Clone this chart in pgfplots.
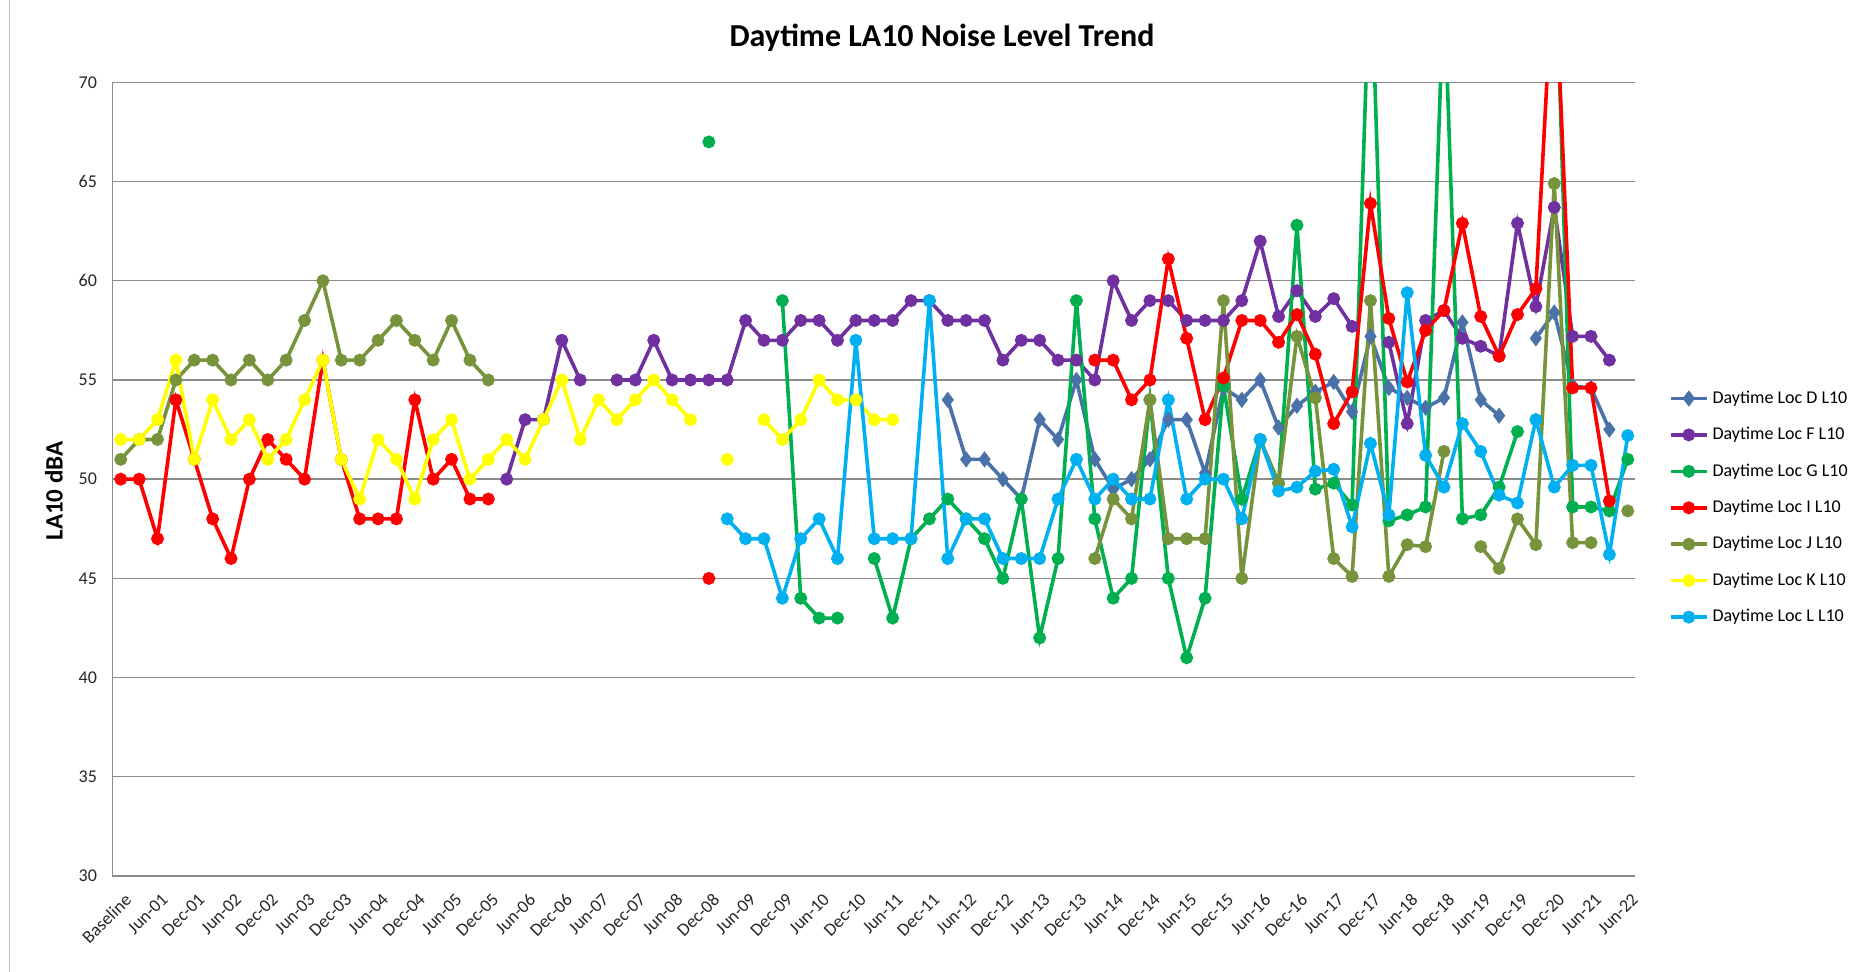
\documentclass[border=0pt]{standalone}
\usepackage{fontspec}
\setmainfont{Carlito}
\usepackage{pgfplots}
\pgfplotsset{compat=1.18}

\definecolor{locD}{HTML}{4A72A8}
\definecolor{locF}{HTML}{7030A0}
\definecolor{locG}{HTML}{00B050}
\definecolor{locI}{HTML}{FF0000}
\definecolor{locJ}{HTML}{77933C}
\definecolor{locK}{HTML}{FFFF00}
\definecolor{locL}{HTML}{00B0F0}
\definecolor{gridgray}{HTML}{8C8C8C}

\begin{document}
\begin{tikzpicture}
\useasboundingbox (0,0) rectangle (937pt,486pt);
\draw[gray!50, line width=0.6pt] (4.8pt,0pt) -- (4.8pt,486pt);
\begin{axis}[
  at={(56.15pt,48pt)}, anchor=south west,
  scale only axis, width=761.4pt, height=396.8pt,
  xmin=-0.46, xmax=82.4, ymin=30, ymax=70,
  ytick={30,35,...,70},
  xtick={0,2,...,82},
  xticklabels={Baseline,Jun-01,Dec-01,Jun-02,Dec-02,Jun-03,Dec-03,Jun-04,Dec-04,Jun-05,Dec-05,
    Jun-06,Dec-06,Jun-07,Dec-07,Jun-08,Dec-08,Jun-09,Dec-09,Jun-10,Dec-10,Jun-11,Dec-11,
    Jun-12,Dec-12,Jun-13,Dec-13,Jun-14,Dec-14,Jun-15,Dec-15,Jun-16,Dec-16,Jun-17,Dec-17,
    Jun-18,Dec-18,Jun-19,Dec-19,Dec-20,Jun-21,Jun-22},
  axis x line*=bottom, axis y line*=left,
  axis line style={-, gridgray, line width=0.7pt},
  ymajorgrids, grid style={gridgray, line width=0.7pt},
  major tick length=0pt,
  /pgf/number format/assume math mode=true,
  tick label style={font=\fontsize{9}{10.8}\selectfont, text=black!85},
  yticklabel style={anchor=east, inner sep=0pt, xshift=-7.5pt},
  xticklabel style={xshift=1.5pt, yshift=-8pt, rotate=45, anchor=north east, inner sep=0pt},
  unbounded coords=jump,
  every axis plot/.append style={line width=1.8pt, mark size=2.3pt},
  legend style={at={(1.022,0.617)}, anchor=north west, draw=none, fill=none,
    font=\fontsize{9}{10.8}\selectfont, row sep=6.5pt, inner sep=0pt},
  legend cell align=left,
  legend image code/.code={\draw[mark repeat=2, mark phase=2, #1]
    plot coordinates {(0pt,0pt) (9pt,0pt) (18pt,0pt)};},
]
% Loc D
\addplot[color=locD, mark=diamond*, mark size=2.6pt] coordinates {
(45,54)(46,51)(47,51)(48,50)(49,49)(50,53)(51,52)(52,55)(53,51)(54,49.5)(55,50)(56,51)
(57,53)(58,53)(59,50.3)(60,54.6)(61,54)(62,55)(63,52.6)(64,53.7)(65,54.4)(66,54.9)
(67,53.4)(68,57.2)(69,54.6)(70,54.1)(71,53.6)(72,54.1)(73,57.9)(74,54)(75,53.2)(76,nan)
(77,57.1)(78,58.4)(79,54.7)(80,54.6)(81,52.5)
};
% Loc F
\addplot[color=locF, mark=*] coordinates {
(21,50)(22,53)(23,53)(24,57)(25,55)(26,nan)(27,55)(28,55)(29,57)(30,55)(31,55)(32,55)
(33,55)(34,58)(35,57)(36,57)(37,58)(38,58)(39,57)(40,58)(41,58)(42,58)(43,59)(44,59)
(45,58)(46,58)(47,58)(48,56)(49,57)(50,57)(51,56)(52,56)(53,55)(54,60)(55,58)(56,59)
(57,59)(58,58)(59,58)(60,58)(61,59)(62,62)(63,58.2)(64,59.5)(65,58.2)(66,59.1)(67,57.7)
(68,nan)(69,56.9)(70,52.8)(71,58)(72,58.5)(73,57.1)(74,56.7)(75,56.2)(76,62.9)(77,58.7)
(78,63.7)(79,57.2)(80,57.2)(81,56)
};
% Loc G
\addplot[color=locG, mark=*] coordinates {
(32,67)(33,nan)(36,59)(37,44)(38,43)(39,43)(40,nan)(41,46)(42,43)(43,47)(44,48)(45,49)
(46,48)(47,47)(48,45)(49,49)(50,42)(51,46)(52,59)(53,48)(54,44)(55,45)(56,54)(57,45)
(58,41)(59,44)(60,54.7)(61,49)(62,52)(63,49.8)(64,62.8)(65,49.5)(66,49.8)(67,48.7)
(68,77)(69,47.9)(70,48.2)(71,48.6)(72,75)(73,48)(74,48.2)(75,49.6)(76,52.4)(77,nan)
(78,79)(79,48.6)(80,48.6)(81,48.4)(82,51)
};
% Loc I
\addplot[color=locI, mark=*] coordinates {
(0,50)(1,50)(2,47)(3,54)(4,51)(5,48)(6,46)(7,50)(8,52)(9,51)(10,50)(11,56)(12,51)
(13,48)(14,48)(15,48)(16,54)(17,50)(18,51)(19,49)(20,49)(21,nan)(32,45)(33,nan)
(53,56)(54,56)(55,54)(56,55)(57,61.1)(58,57.1)(59,53)(60,55.1)(61,58)(62,58)(63,56.9)
(64,58.3)(65,56.3)(66,52.8)(67,54.4)(68,63.9)(69,58.1)(70,54.9)(71,57.5)(72,58.5)
(73,62.9)(74,58.2)(75,56.2)(76,58.3)(77,59.6)(78,77)(79,54.6)(80,54.6)(81,48.9)
};
% Loc J
\addplot[color=locJ, mark=*] coordinates {
(0,51)(1,52)(2,52)(3,55)(4,56)(5,56)(6,55)(7,56)(8,55)(9,56)(10,58)(11,60)(12,56)
(13,56)(14,57)(15,58)(16,57)(17,56)(18,58)(19,56)(20,55)(21,nan)
(53,46)(54,49)(55,48)(56,54)(57,47)(58,47)(59,47)(60,59)(61,45)(62,52)(63,49.8)
(64,57.2)(65,54.1)(66,46)(67,45.1)(68,59)(69,45.1)(70,46.7)(71,46.6)(72,51.4)(73,nan)
(74,46.6)(75,45.5)(76,48)(77,46.7)(78,64.9)(79,46.8)(80,46.8)(81,nan)(82,48.4)
};
% Loc K
\addplot[color=locK, mark=*] coordinates {
(0,52)(1,52)(2,53)(3,56)(4,51)(5,54)(6,52)(7,53)(8,51)(9,52)(10,54)(11,56)(12,51)
(13,49)(14,52)(15,51)(16,49)(17,52)(18,53)(19,50)(20,51)(21,52)(22,51)(23,53)(24,55)
(25,52)(26,54)(27,53)(28,54)(29,55)(30,54)(31,53)(32,nan)(33,51)(34,nan)
(35,53)(36,52)(37,53)(38,55)(39,54)(40,54)(41,53)(42,53)
};
% Loc L
\addplot[color=locL, mark=*] coordinates {
(33,48)(34,47)(35,47)(36,44)(37,47)(38,48)(39,46)(40,57)(41,47)(42,47)(43,47)(44,59)
(45,46)(46,48)(47,48)(48,46)(49,46)(50,46)(51,49)(52,51)(53,49)(54,50)(55,49)(56,49)
(57,54)(58,49)(59,50)(60,50)(61,48)(62,52)(63,49.4)(64,49.6)(65,50.4)(66,50.5)(67,47.6)
(68,51.8)(69,48.2)(70,59.4)(71,51.2)(72,49.6)(73,52.8)(74,51.4)(75,49.2)(76,48.8)
(77,53)(78,49.6)(79,50.7)(80,50.7)(81,46.2)(82,52.2)
};
\legend{Daytime Loc D L10, Daytime Loc F L10, Daytime Loc G L10, Daytime Loc I L10,
  Daytime Loc J L10, Daytime Loc K L10, Daytime Loc L L10}
\end{axis}
\node[font=\bfseries\fontsize{16}{19}\selectfont] at (471pt,467pt) {Daytime LA10 Noise Level Trend};
\node[rotate=90, font=\bfseries\fontsize{12.5}{15}\selectfont] at (27pt,240.5pt) {LA10 dBA};
\end{tikzpicture}
\end{document}
